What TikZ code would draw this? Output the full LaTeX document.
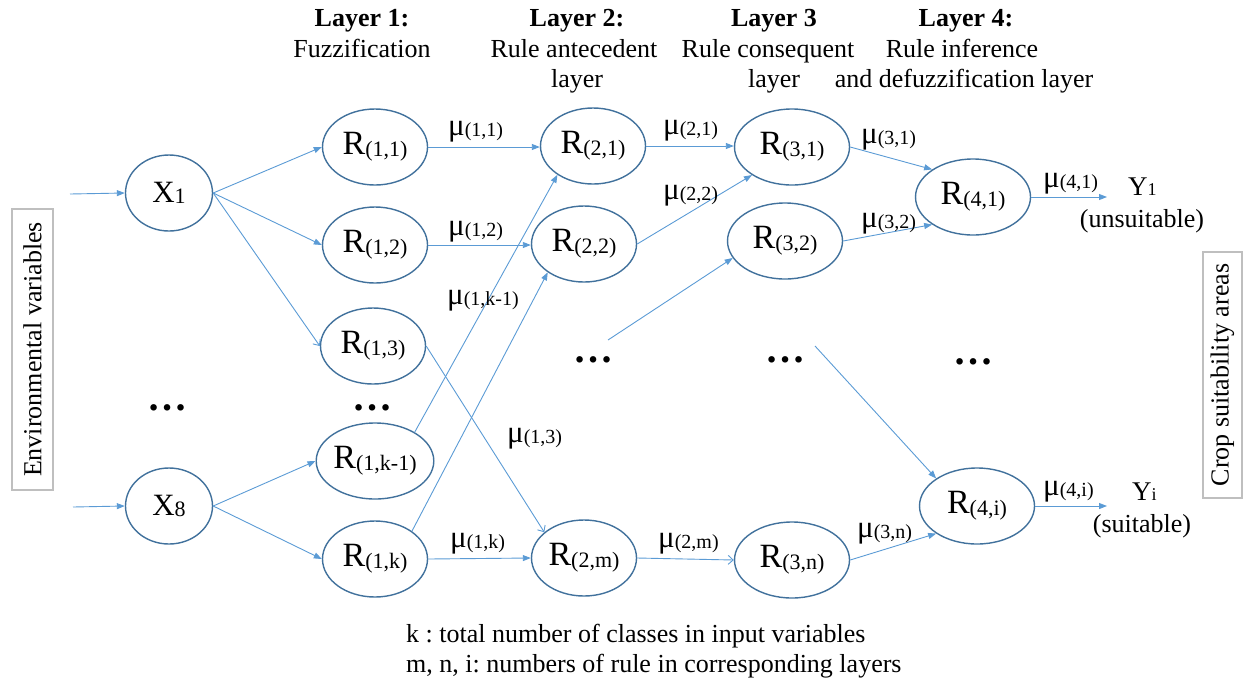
\documentclass[tikz,border=0pt]{standalone}
\usepackage{fontspec}
\setmainfont{Liberation Serif}
\usetikzlibrary{arrows.meta,shapes.geometric}
\definecolor{ebord}{HTML}{41719C}
\definecolor{arr}{HTML}{5B9BD5}
\definecolor{boxg}{HTML}{BFBFBF}
\newcommand\fsz[1]{\fontsize{#1}{#1}\selectfont}
\newcommand\Rl[1]{{\fsz{34}R}\raisebox{-2pt}{\fsz{22}#1}}
\newcommand\Ml[1]{{\fsz{31}μ}\raisebox{-1pt}{\fsz{20}#1}}
\frenchspacing
\begin{document}
\begin{tikzpicture}[x=1pt,y=-1pt,
  nd/.style={ellipse,draw=ebord,line width=1.4pt,inner sep=0pt,minimum width=105pt,minimum height=76pt},
  wd/.style={minimum width=115pt},
  xn/.style={minimum width=87pt},
  lk/.style={draw=arr,line width=0.9pt,-{Triangle[length=8pt,width=6pt]}},
  lko/.style={draw=arr,line width=0.9pt,-{Straight Barb[length=5pt,width=9pt]}},
  lab/.style={inner sep=0pt,anchor=base west},
  hd/.style={inner sep=0pt,anchor=base,font=\fsz{26}},
  txt/.style={inner sep=0pt,anchor=base west,font=\fsz{26}},
  dots/.style={inner sep=0pt,font=\fsz{40}\bfseries},
  sbox/.style={draw=boxg,line width=1.6pt,rotate=90,inner sep=0pt,font=\fsz{26}}
]
\useasboundingbox (0,0) rectangle (1244,681);

% side boxes
\node[sbox,minimum width=281pt,minimum height=41pt] (env) at (32.5,349.5) {Environmental variables};
\node[sbox,minimum width=246pt,minimum height=39pt] (crop) at (1222.5,375) {Crop suitability areas};

% headers
\node[hd] (h1a) at (362,26) {\textbf{Layer 1:}};
\node[hd] (h1b) at (362,57) {Fuzzification};
\node[hd] (h2a) at (577,26) {\textbf{Layer 2:}};
\node[hd] (h2b) at (574,57) {Rule antecedent};
\node[hd] (h2c) at (577,87) {layer};
\node[hd] (h3a) at (774,26) {\textbf{Layer 3}};
\node[hd] (h3b) at (768,57) {Rule consequent};
\node[hd] (h3c) at (774,87) {layer};
\node[hd] (h4a) at (966,26) {\textbf{Layer 4:}};
\node[hd] (h4b) at (962,57) {Rule inference};
\node[hd] (h4c) at (964,87) {and defuzzification layer};

% nodes
\node[nd,xn] (x1) at (169,193) {{\fsz{31}X}\raisebox{-1pt}{\fsz{22}1}};
\node[nd,xn] (x8) at (169,506) {{\fsz{31}X}\raisebox{-1pt}{\fsz{22}8}};
\node[nd] (r11) at (375,147) {\Rl{(1,1)}};
\node[nd] (r12) at (375,245) {\Rl{(1,2)}};
\node[nd] (r13) at (373,346) {\Rl{(1,3)}};
\node[nd] (r1k1) at (375,461) {\Rl{(1,k-1)}};
\node[nd] (r1k) at (375,559) {\Rl{(1,k)}};
\node[nd] (r21) at (593,146) {\Rl{(2,1)}};
\node[nd] (r22) at (584,244) {\Rl{(2,2)}};
\node[nd] (r2m) at (584,558) {\Rl{(2,m)}};
\node[nd,wd] (r31) at (792,147) {\Rl{(3,1)}};
\node[nd,wd] (r32) at (785,241) {\Rl{(3,2)}};
\node[nd,wd] (r3n) at (792,560) {\Rl{(3,n)}};
\node[nd,wd] (r41) at (973,197) {\Rl{(4,1)}};
\node[nd,wd] (r4i) at (977,506) {\Rl{(4,i)}};

% dots
\node[dots] (d1) at (167,408) {…};
\node[dots] (d2) at (372,408) {…};
\node[dots] (d3) at (593,360) {…};
\node[dots] (d4) at (785,360) {…};
\node[dots] (d5) at (973,362) {…};

% free ends
\coordinate (in1) at (70,194);
\coordinate (in8) at (73,507);
\coordinate (f1) at (608,340);
\coordinate (f2) at (815,346);
\coordinate (o1) at (1107,197);
\coordinate (o2) at (1107,506);

% connectors
\draw[lk] (in1) -- (x1.west);
\draw[lk] (in8) -- (x8.west);
\draw[lk] (x1.east) -- (r11.west);
\draw[lk] (x1.east) -- (r12.west);
\draw[lko] (x1.east) -- (r13.west);
\draw[lk] (x8.east) -- (r1k1.west);
\draw[lk] (x8.east) -- (r1k.west);
\draw[lk] (r11.east) -- (r21.west |- r11.east);
\draw[lk] (r12.east) -- (r22.west |- r12.east);
\draw[lk] (r1k1.36) -- (r21.219);
\draw[lk] (r1k.37) -- (r22.218);
\draw[lko] (r13.east) -- (r2m.147);
\draw[lk] (r1k.east) -- (r2m.west);
\draw[lk] (r21.east) -- (r31.west |- r21.east);
\draw[lk] (r22.east) -- (r31.215);
\draw[lk] (f1) -- (r32.198);
\draw[lk] (f2) -- (r4i.146);
\draw[lko] (r2m.east) -- (r3n.west);
\draw[lk] (r31.east) -- (r41.146);
\draw[lk] (r32.east) -- (r41.214);
\draw[lk] (r3n.east) -- (r4i.214);
\draw[lk] (r41.east) -- (o1);
\draw[lk] (r4i.east) -- (o2);

% mu labels
\node[lab] (m11) at (448,135) {\Ml{(1,1)}};
\node[lab] (m12) at (448,235) {\Ml{(1,2)}};
\node[lab] (m1k1) at (447,304) {\Ml{(1,k-1)}};
\node[lab] (m13) at (507,442) {\Ml{(1,3)}};
\node[lab] (m1k) at (450,547) {\Ml{(1,k)}};
\node[lab] (m21) at (663,134) {\Ml{(2,1)}};
\node[lab] (m22) at (663,199) {\Ml{(2,2)}};
\node[lab] (m2m) at (658,547) {\Ml{(2,m)}};
\node[lab] (m31) at (861,143) {\Ml{(3,1)}};
\node[lab] (m32) at (861,227) {\Ml{(3,2)}};
\node[lab] (m3n) at (857,537) {\Ml{(3,n)}};
\node[lab] (m41) at (1043,187) {\Ml{(4,1)}};
\node[lab] (m4i) at (1043,495) {\Ml{(4,i)}};

% outputs
\node[lab] (y1) at (1128,195) {{\fsz{27}Y}{\fsz{18}1}};
\node[hd] (y1b) at (1142,227) {(unsuitable)};
\node[lab] (yi) at (1132,500) {{\fsz{27}Y}{\fsz{18}i}};
\node[hd] (yib) at (1142,532) {(suitable)};

% footnote
\node[txt] (k1) at (406,642) {k : total number of classes in input variables};
\node[txt] (k2) at (406,672) {m, n, i: numbers of rule in corresponding layers};
\end{tikzpicture}
\end{document}
